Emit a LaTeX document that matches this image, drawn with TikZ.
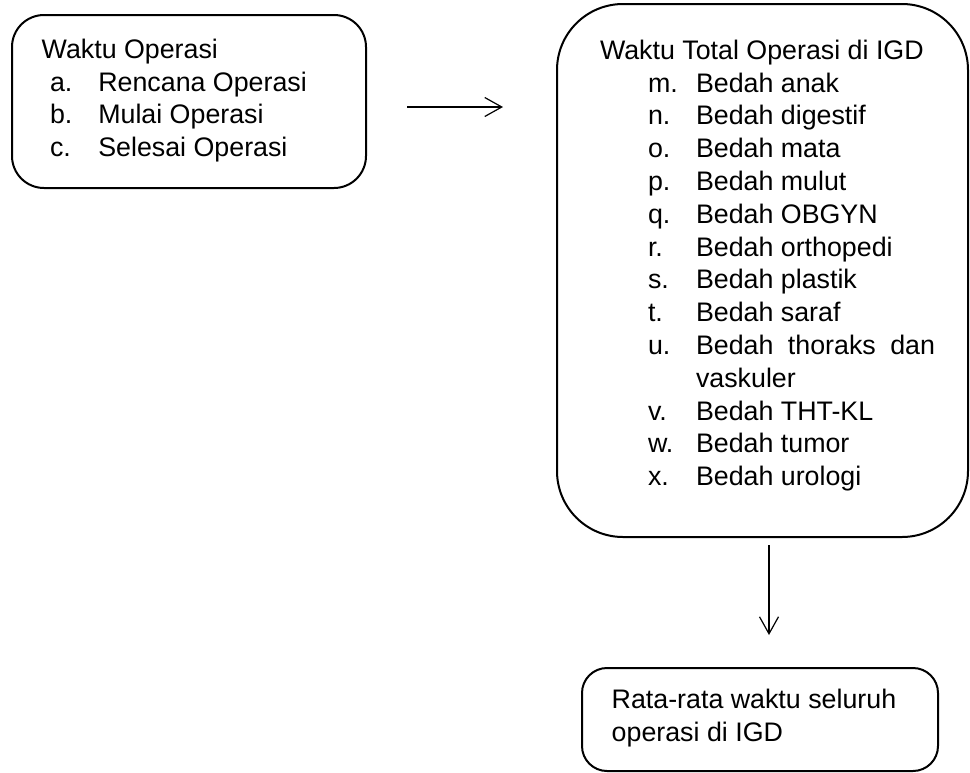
\documentclass[tikz,border=0pt]{standalone}
\usepackage{fontspec}
\setmainfont{Liberation Sans}
\usetikzlibrary{arrows.meta}
\begin{document}
\begin{tikzpicture}[x=1pt,y=-1pt,
  box/.style={draw, line width=2pt, inner sep=0pt, outer sep=0pt, anchor=north west},
  txt/.style={anchor=base west, inner sep=0pt, outer sep=0pt, font=\fontsize{26.8}{32.8}\selectfont},
  arr/.style={line width=1.2pt, -{Straight Barb[length=17pt,width=19pt,line width=1.2pt]}}]
\useasboundingbox (0,0) rectangle (970,772);
% boxes
\node[box, rounded corners=32pt, minimum width=354pt, minimum height=173pt] (box1) at (12,15) {};
\node[box, rounded corners=66pt, minimum width=411pt, minimum height=533pt] (box2) at (557,4) {};
\node[box, rounded corners=25pt, minimum width=356pt, minimum height=103pt] (box3) at (582,668) {};
% left box text
\node[txt] (t1) at (41.7,58.5) {Waktu Operasi};
\foreach \lab/\itm [count=\i] in {a./Rencana Operasi, b./Mulai Operasi, c./Selesai Operasi} {
  \node[txt] (l\i) at (50, 58.5+32.6*\i) {\lab};
  \node[txt] (lt\i) at (98.3, 58.5+32.6*\i) {\itm};
}
% right box text
\node[txt] (t2) at (600,59) {Waktu Total Operasi di IGD};
\foreach \lab/\itm/\k in {m./Bedah anak/1, n./Bedah digestif/2, o./Bedah mata/3, p./Bedah mulut/4, q./Bedah OBGYN/5, r./Bedah orthopedi/6, s./Bedah plastik/7, t./Bedah saraf/8, v./Bedah THT-KL/11, w./Bedah tumor/12, x./Bedah urologi/13} {
  \node[txt] (r\k) at (648, 59.3+32.8*\k) {\lab};
  \node[txt] (rt\k) at (696, 59.3+32.8*\k) {\itm};
}
\node[txt] (r9) at (648, 59.3+32.8*9) {u.};
\node[txt] (rt9) at (696, 59.3+32.8*9) {\makebox[239pt][s]{Bedah thoraks dan}};
\node[txt] (rt10) at (696, 59.3+32.8*10) {vaskuler};
% bottom box text
\node[txt] (b1) at (611.7,708) {Rata-rata waktu seluruh};
\node[txt] (b2) at (611.7,741.7) {operasi di IGD};
% connectors
\draw[arr, shorten <=41pt, shorten >=54pt] ([yshift=-5.5pt]box1.east) -- ([yshift=-5.5pt]box1.east -| box2.west);
\draw[arr, shorten <=8pt, shorten >=33pt] ([xshift=6.5pt]box2.south) -- ([xshift=6.5pt]box2.south |- box3.north);
\end{tikzpicture}
\end{document}
